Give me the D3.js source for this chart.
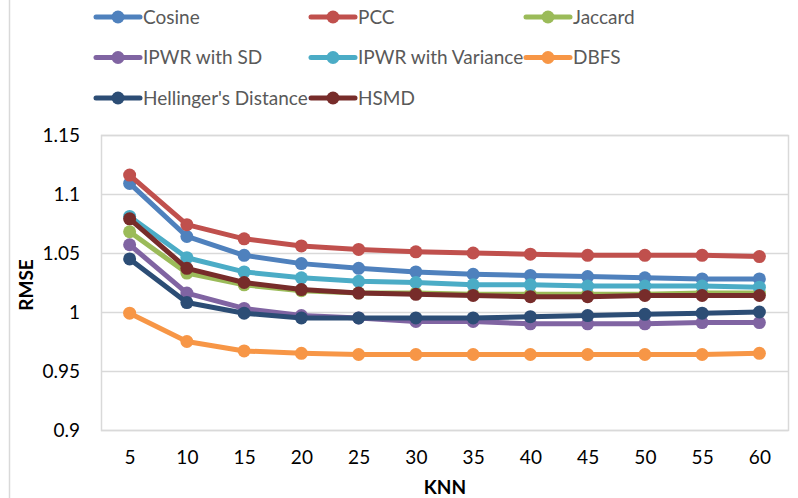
<!DOCTYPE html>
<html>
<head>
<meta charset="utf-8">
<script src="https://d3js.org/d3.v7.min.js"></script>
<style>
  body{margin:0;background:#fff;}
  svg{display:block;font-family:Lato,"Open Sans",sans-serif;}
</style>
</head>
<body>
<div id="content"></div>
<script>
(function(){

      //////////////////////////////////////////////////////////////
      //////////////////////// data ////////////////////////////////
      //////////////////////////////////////////////////////////////
      var knn = [5, 10, 15, 20, 25, 30, 35, 40, 45, 50, 55, 60];
      var yTicks = [0.9, 0.95, 1, 1.05, 1.1, 1.15];

      var cosine     = [1.109, 1.064, 1.048, 1.041, 1.037, 1.034, 1.032, 1.031, 1.030, 1.029, 1.028, 1.028];
      var pcc        = [1.116, 1.074, 1.062, 1.056, 1.053, 1.051, 1.050, 1.049, 1.048, 1.048, 1.048, 1.047];
      var jaccard    = [1.068, 1.033, 1.023, 1.018, 1.016, 1.016, 1.015, 1.015, 1.015, 1.015, 1.016, 1.016];
      var ipwrSD     = [1.057, 1.016, 1.003, 0.997, 0.995, 0.992, 0.992, 0.990, 0.990, 0.990, 0.991, 0.991];
      var ipwrVar    = [1.081, 1.046, 1.034, 1.029, 1.026, 1.025, 1.023, 1.023, 1.022, 1.022, 1.022, 1.021];
      var dbfs       = [0.999, 0.975, 0.967, 0.965, 0.964, 0.964, 0.964, 0.964, 0.964, 0.964, 0.964, 0.965];
      var hellinger  = [1.045, 1.008, 0.999, 0.995, 0.995, 0.995, 0.995, 0.996, 0.997, 0.998, 0.999, 1.000];
      var hsmd       = [1.079, 1.037, 1.025, 1.019, 1.016, 1.015, 1.014, 1.013, 1.013, 1.014, 1.014, 1.014];

      var names  = ["Cosine", "PCC", "Jaccard", "IPWR with SD", "IPWR with Variance", "DBFS", "Hellinger's Distance", "HSMD"];
      var colors = ["#4f81bd", "#c0504d", "#9bbb59", "#8064a2", "#4bacc6", "#f79646", "#2c4d75", "#772c2a"];

      var series = [cosine, pcc, jaccard, ipwrSD, ipwrVar, dbfs, hellinger, hsmd].map(function(vals, i){
        return {name: names[i], color: colors[i], values: vals};
      });

      //////////////////////////////////////////////////////////////
      //////////////////////// chart ///////////////////////////////
      //////////////////////////////////////////////////////////////
      var width = 798, height = 498;
      var plot = {left: 101, right: 788, top: 135, bottom: 430};

      var svg = d3.select("#content").append("svg")
          .attr("width", width)
          .attr("height", height);

      // outer chart border, only the left edge shows
      svg.append("line")
          .attr("x1", 9.5).attr("x2", 9.5)
          .attr("y1", 0).attr("y2", height)
          .style("stroke", "#d9d9d9")
          .style("stroke-width", "1.5px");

      var x = d3.scalePoint()
          .domain(knn)
          .range([plot.left, plot.right])
          .padding(0.5);

      var y = d3.scaleLinear()
          .domain([0.9, 1.15])
          .range([plot.bottom, plot.top]);

      // gridlines
      svg.append("g")
          .selectAll("line")
          .data(yTicks)
        .enter().append("line")
          .attr("x1", plot.left).attr("x2", plot.right)
          .attr("y1", function(d){ return Math.round(y(d)) + 0.5; })
          .attr("y2", function(d){ return Math.round(y(d)) + 0.5; })
          .style("stroke", "#d9d9d9")
          .style("stroke-width", "1.5px");

      // plot border
      svg.append("rect")
          .attr("x", plot.left + 0.5)
          .attr("y", plot.top + 0.5)
          .attr("width", plot.right - plot.left)
          .attr("height", plot.bottom - plot.top)
          .style("fill", "none")
          .style("stroke", "#d9d9d9")
          .style("stroke-width", "1.5px");

      // y axis labels
      var yAxis = svg.append("g")
          .attr("transform", "translate(" + (plot.left - 21) + ",0)")
          .call(d3.axisLeft(y).tickValues(yTicks).tickSize(0).tickPadding(0).tickFormat(d3.format("")));
      yAxis.select(".domain").remove();
      yAxis.selectAll("text")
          .style("font-size", "19px")
          .style("font-family", "Lato, sans-serif")
          .style("fill", "#000");

      // x axis labels
      var xAxis = svg.append("g")
          .attr("transform", "translate(0," + (plot.bottom + 20) + ")")
          .call(d3.axisBottom(x).tickSize(0).tickPadding(0));
      xAxis.select(".domain").remove();
      xAxis.selectAll("text")
          .attr("dy", "0.71em")
          .style("font-size", "19px")
          .style("font-family", "Lato, sans-serif")
          .style("fill", "#000");

      // axis titles
      svg.append("text")
          .attr("transform", "translate(33,285) rotate(-90)")
          .attr("text-anchor", "middle")
          .style("font-size", "19px")
          .style("font-weight", "bold")
          .text("RMSE");

      svg.append("text")
          .attr("x", 445)
          .attr("y", 494)
          .attr("text-anchor", "middle")
          .style("font-size", "19px")
          .style("font-weight", "bold")
          .text("KNN");

      // lines + markers
      var line = d3.line()
          .x(function(d, i){ return x(knn[i]); })
          .y(function(d){ return y(d); });

      var grp = svg.selectAll(".series")
          .data(series)
        .enter().append("g")
          .attr("class", "series");

      grp.append("path")
          .attr("d", function(d){ return line(d.values); })
          .style("fill", "none")
          .style("stroke", function(d){ return d.color; })
          .style("stroke-width", "5px")
          .style("stroke-linejoin", "round");

      grp.selectAll("circle")
          .data(function(d){ return d.values.map(function(v, i){ return {v: v, k: knn[i], c: d.color}; }); })
        .enter().append("circle")
          .attr("cx", function(d){ return x(d.k); })
          .attr("cy", function(d){ return y(d.v); })
          .attr("r", 6.5)
          .style("fill", function(d){ return d.c; });

      //////////////////////////////////////////////////////////////
      //////////////////////// legend //////////////////////////////
      //////////////////////////////////////////////////////////////
      var legend = svg.selectAll(".legend")
          .data(series)
        .enter().append("g")
          .attr("class", "legend")
          .attr("transform", function(d, i){
            return "translate(" + (96 + (i % 3) * 215) + "," + (17 + Math.floor(i / 3) * 40.5) + ")";
          });

      legend.append("line")
          .attr("x1", 0).attr("x2", 44)
          .style("stroke", function(d){ return d.color; })
          .style("stroke-width", "5px")
          .style("stroke-linecap", "round");

      legend.append("circle")
          .attr("cx", 22)
          .attr("r", 6.5)
          .style("fill", function(d){ return d.color; });

      legend.append("text")
          .attr("x", 47)
          .attr("dy", "0.35em")
          .style("font-size", "19px")
          .style("fill", "#595959")
          .text(function(d){ return d.name; });

})();
</script>
</body>
</html>
